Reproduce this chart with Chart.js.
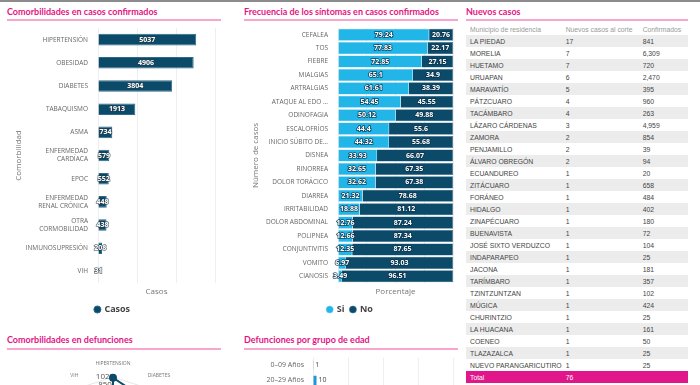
<!DOCTYPE html>
<html>
<head>
<meta charset="utf-8">
<script src="https://cdn.jsdelivr.net/npm/chart.js@4.4.0/dist/chart.umd.min.js"></script>
<style>
body { margin: 0; width: 700px; height: 385px; overflow: hidden; background: #fff; position: relative; font-family: Lato, "Open Sans", sans-serif; }
.topbar { position: absolute; left: 0; top: 0; width: 700px; height: 2px; background: #8c8c8c; }
.title { position: absolute; color: #e3147f; font-weight: bold; font-size: 9px; white-space: nowrap; line-height: 12px; }
.rule { position: absolute; height: 2px; background: #f8a6cf; }
.box { position: absolute; }
table { position: absolute; left: 466px; top: 23px; width: 222px; border-collapse: collapse; font-family: "Liberation Sans", Arial, sans-serif; font-size: 6.8px; color: #444; }
td, th { height: 12px; padding: 0 0 0 4px; text-align: left; white-space: nowrap; }
th { font-weight: normal; color: #9a9a9a; }
tbody tr:nth-child(odd) { background: #ececec; }
tr.total td { background: #e0168a; color: #fff; }
</style>
</head>
<body>
<div class="topbar"></div>

<div class="title" style="left:7px;top:6px">Comorbilidades en casos confirmados</div>
<div class="rule" style="left:7px;top:19px;width:214px"></div>
<div class="box" style="left:5px;top:22px;width:222px;height:302px"><canvas id="comorb"></canvas></div>

<div class="title" style="left:244px;top:6px">Frecuencia de los síntomas en casos confirmados</div>
<div class="rule" style="left:244px;top:19px;width:214px"></div>
<div class="box" style="left:242px;top:22px;width:222px;height:302px"><canvas id="sintomas"></canvas></div>

<div class="title" style="left:466px;top:6px">Nuevos casos</div>
<div class="rule" style="left:466px;top:19px;width:222px"></div>
<table id="tabla">
<thead><tr><th style="width:91px">Municipio de residencia</th><th style="width:73px">Nuevos casos al corte</th><th>Confirmados</th></tr></thead>
<tbody></tbody>
</table>

<div class="box" style="left:-67px;top:361px;width:360px;height:130px"><canvas id="defunciones"></canvas></div>
<div class="title" style="left:7px;top:334px">Comorbilidades en defunciones</div>
<div class="rule" style="left:7px;top:348px;width:214px"></div>

<div class="title" style="left:244px;top:334px">Defunciones por grupo de edad</div>
<div class="rule" style="left:244px;top:348px;width:214px"></div>
<div class="box" style="left:242px;top:352px;width:222px;height:163px"><canvas id="edad"></canvas></div>

<script>
const navy = '#0c4a6a';
const cyan = '#22b5e8';

const comorbLabels = ['HIPERTENSIÓN', 'OBESIDAD', 'DIABETES', 'TABAQUISMO', 'ASMA', ['ENFERMEDAD', 'CARDÍACA'], 'EPOC', ['ENFERMEDAD', 'RENAL CRÓNICA'], ['OTRA', 'CORMOBILIDAD'], 'INMUNOSUPRESIÓN', 'VIH'];
const comorbCasos = [5037, 4906, 3804, 1913, 734, 579, 552, 448, 438, 208, 31];

const sintomas = ['CEFALEA', 'TOS', 'FIEBRE', 'MIALGIAS', 'ARTRALGIAS', 'ATAQUE AL EDO ...', 'ODINOFAGIA', 'ESCALOFRÍOS', 'INICIO SÚBITO DE...', 'DISNEA', 'RINORREA', 'DOLOR TORÁCICO', 'DIARREA', 'IRRITABILIDAD', 'DOLOR ABDOMINAL', 'POLIPNEA', 'CONJUNTIVITIS', 'VOMITO', 'CIANOSIS'];
const sintomasSi = [79.24, 77.83, 72.85, 65.1, 61.61, 54.45, 50.12, 44.4, 44.32, 33.93, 32.65, 32.62, 21.32, 18.88, 12.76, 12.66, 12.35, 6.97, 3.49];
const sintomasNo = [20.76, 22.17, 27.15, 34.9, 38.39, 45.55, 49.88, 55.6, 55.68, 66.07, 67.35, 67.38, 78.68, 81.12, 87.24, 87.34, 87.65, 93.03, 96.51];

const municipios = ['LA PIEDAD', 'MORELIA', 'HUETAMO', 'URUAPAN', 'MARAVATÍO', 'PÁTZCUARO', 'TACÁMBARO', 'LÁZARO CÁRDENAS', 'ZAMORA', 'PENJAMILLO', 'ÁLVARO OBREGÓN', 'ECUANDUREO', 'ZITÁCUARO', 'FORÁNEO', 'HIDALGO', 'ZINAPÉCUARO', 'BUENAVISTA', 'JOSÉ SIXTO VERDUZCO', 'INDAPARAPEO', 'JACONA', 'TARÍMBARO', 'TZINTZUNTZAN', 'MÚGICA', 'CHURINTZIO', 'LA HUACANA', 'COENEO', 'TLAZAZALCA', 'NUEVO PARANGARICUTIRO'];
const nuevosCasos = [17, 7, 7, 6, 5, 4, 4, 3, 2, 2, 2, 1, 1, 1, 1, 1, 1, 1, 1, 1, 1, 1, 1, 1, 1, 1, 1, 1];
const confirmados = [841, 6309, 720, 2470, 395, 960, 263, 4959, 854, 39, 94, 20, 658, 484, 402, 180, 72, 104, 25, 181, 357, 102, 424, 25, 161, 50, 25, 25];
const totalNuevos = 76;

const defLabels = ['HIPERTENSIÓN', 'DIABETES', 'OBESIDAD', 'TABAQUISMO', 'ASMA', 'EPOC', 'ENF. RENAL', 'CARDÍACA', 'INMUNOSUPRESIÓN', 'VIH'];
const defValores = [1005, 840, 620, 130, 40, 110, 150, 120, 45, 8];

const edadLabels = ['0–09 Años', '20–29 Años', '30–39 Años', '40–49 Años', '50–59 Años', '60–69 Años', '70–79 Años', '80–89 Años', '90+ Años'];
const edadValores = [1, 10, 35, 110, 230, 320, 300, 190, 45];

Chart.defaults.font.family = '"Open Sans", sans-serif';
Chart.defaults.color = '#666';
Chart.defaults.animation = false;

// values written on the bars
const barValues = {
    id: 'barValues',
    afterDatasetsDraw(chart, args, opts) {
        const ctx = chart.ctx;
        ctx.save();
        ctx.font = opts.font;
        ctx.textBaseline = 'middle';
        chart.data.datasets.forEach((ds, i) => {
            chart.getDatasetMeta(i).data.forEach((bar, j) => {
                const v = String(ds.data[j]);
                if (opts.outside) {
                    ctx.textAlign = 'left';
                    ctx.fillStyle = '#444';
                    ctx.fillText(v, bar.x + 2, bar.y);
                } else {
                    const x = (bar.x + bar.base) / 2;
                    ctx.textAlign = 'center';
                    ctx.lineWidth = 1.6;
                    ctx.strokeStyle = opts.stroke;
                    ctx.strokeText(v, x, bar.y);
                    ctx.fillStyle = '#fff';
                    ctx.fillText(v, x, bar.y);
                }
            });
        });
        ctx.restore();
    }
};

const legendOpts = {
    position: 'bottom',
    labels: { usePointStyle: true, pointStyle: 'circle', boxWidth: 5, boxHeight: 5, padding: 6, color: '#444', font: { size: 9, weight: 'bold' } }
};

new Chart(document.getElementById('comorb'), {
    type: 'bar',
    data: {
        labels: comorbLabels,
        datasets: [{ label: 'Casos', data: comorbCasos, backgroundColor: navy, borderColor: '#2a6a8a', borderWidth: 1, barPercentage: 0.5, categoryPercentage: 1 }]
    },
    options: {
        indexAxis: 'y',
        responsive: true,
        maintainAspectRatio: false,
        layout: { padding: { left: 5, right: 12, top: 5, bottom: 0 } },
        scales: {
            x: {
                min: 0, max: 6000,
                ticks: { display: false, stepSize: 2000 },
                grid: { color: '#eeeeee', drawTicks: false },
                border: { display: false },
                title: { display: true, text: 'Casos', color: '#777', font: { size: 8 }, padding: { top: 4, bottom: 2 } },
                afterFit(s) { s.height = 16; }
            },
            y: {
                ticks: { autoSkip: false, padding: 2, color: '#666', font: { size: 6.5, lineHeight: 1.25 } },
                grid: { display: false },
                border: { display: false },
                title: { display: true, text: 'Comorbilidad', color: '#777', font: { size: 8 } },
                afterFit(s) { s.width = 88; }
            }
        },
        plugins: {
            legend: legendOpts,
            tooltip: { enabled: false },
            barValues: { font: 'bold 7px "Open Sans"', stroke: 'rgba(40,60,75,0.7)' }
        }
    },
    plugins: [barValues]
});

new Chart(document.getElementById('sintomas'), {
    type: 'bar',
    data: {
        labels: sintomas,
        datasets: [
            { label: 'Si', data: sintomasSi, backgroundColor: cyan, borderColor: '#6fd0f2', borderWidth: 0.5, barPercentage: 0.9, categoryPercentage: 1 },
            { label: 'No', data: sintomasNo, backgroundColor: navy, borderColor: '#3a7090', borderWidth: 0.5, barPercentage: 0.9, categoryPercentage: 1 }
        ]
    },
    options: {
        indexAxis: 'y',
        responsive: true,
        maintainAspectRatio: false,
        layout: { padding: { left: 5, right: 11, top: 6, bottom: 0 } },
        scales: {
            x: {
                stacked: true, min: 0, max: 100,
                ticks: { display: false, stepSize: 25 },
                grid: { color: '#eeeeee', drawTicks: false },
                border: { display: false },
                title: { display: true, text: 'Porcentaje', color: '#777', font: { size: 8 }, padding: { top: 4, bottom: 2 } },
                afterFit(s) { s.height = 16; }
            },
            y: {
                stacked: true,
                ticks: { autoSkip: false, padding: 2, color: '#666', font: { size: 6.5 } },
                grid: { display: false },
                border: { display: false },
                title: { display: true, text: 'Número de casos', color: '#777', font: { size: 8 } },
                afterFit(s) { s.width = 91; }
            }
        },
        plugins: {
            legend: legendOpts,
            tooltip: { enabled: false },
            barValues: { font: 'bold 7px "Open Sans"', stroke: 'rgba(12,50,75,0.85)' }
        }
    },
    plugins: [barValues]
});

// table of new cases
const tbody = document.querySelector('#tabla tbody');
municipios.forEach((m, i) => {
    const tr = document.createElement('tr');
    tr.innerHTML = '<td>' + m + '</td><td>' + nuevosCasos[i] + '</td><td>' + confirmados[i].toLocaleString('en-US') + '</td>';
    tbody.appendChild(tr);
});
const trTotal = document.createElement('tr');
trTotal.className = 'total';
trTotal.innerHTML = '<td>Total</td><td>' + totalNuevos + '</td><td></td>';
tbody.appendChild(trTotal);

new Chart(document.getElementById('defunciones'), {
    type: 'radar',
    data: {
        labels: defLabels,
        datasets: [{ label: 'Defunciones', data: defValores, borderColor: navy, backgroundColor: 'rgba(0,0,0,0)', borderWidth: 2, pointRadius: 3, pointBackgroundColor: navy }]
    },
    options: {
        responsive: true,
        maintainAspectRatio: false,
        scales: {
            r: {
                min: 0, max: 1020,
                ticks: {
                    stepSize: 170, showLabelBackdrop: false, color: '#555', font: { size: 8 },
                    callback: v => v + '\u2003\u2003'
                },
                grid: { color: '#e6e6e6' },
                angleLines: { color: '#e6e6e6' },
                pointLabels: { padding: 4, color: '#777', font: { size: 5 } }
            }
        },
        plugins: { legend: { display: false }, tooltip: { enabled: false } }
    }
});

new Chart(document.getElementById('edad'), {
    type: 'bar',
    data: {
        labels: edadLabels,
        datasets: [{ label: 'Defunciones', data: edadValores, backgroundColor: '#1f97d4', barPercentage: 0.6, categoryPercentage: 1 }]
    },
    options: {
        indexAxis: 'y',
        responsive: true,
        maintainAspectRatio: false,
        layout: { padding: { left: 5, right: 11, top: 5.5, bottom: 0 } },
        scales: {
            x: {
                min: 0, max: 400,
                ticks: { stepSize: 100, display: false },
                grid: { color: '#eeeeee', drawTicks: false },
                border: { display: false },
                afterFit(s) { s.height = 20; }
            },
            y: {
                ticks: { autoSkip: false, padding: 1, color: '#666', font: { size: 7 } },
                grid: { display: false },
                border: { display: false },
                afterFit(s) { s.width = 66; }
            }
        },
        plugins: {
            legend: { display: false },
            tooltip: { enabled: false },
            barValues: { font: '7px "Open Sans"', outside: true }
        }
    },
    plugins: [barValues]
});
</script>
</body>
</html>
